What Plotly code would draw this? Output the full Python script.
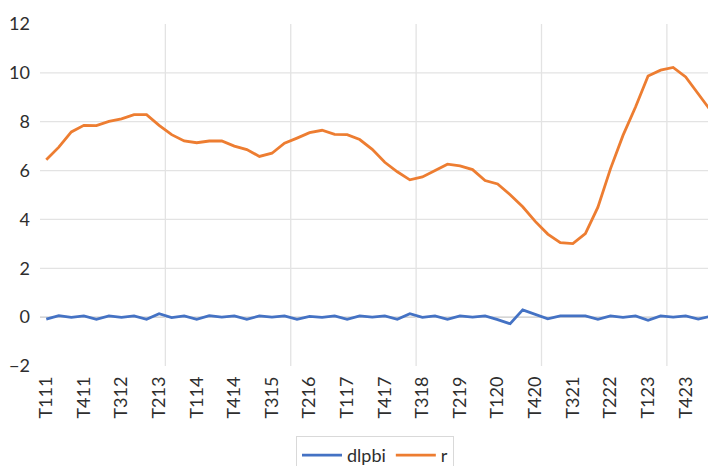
import plotly.graph_objects as go

# Quarterly periods: T<quarter><two-digit year>
quarters = [
    "T111", "T211", "T311", "T411",
    "T112", "T212", "T312", "T412",
    "T113", "T213", "T313", "T413",
    "T114", "T214", "T314", "T414",
    "T115", "T215", "T315", "T415",
    "T116", "T216", "T316", "T416",
    "T117", "T217", "T317", "T417",
    "T118", "T218", "T318", "T418",
    "T119", "T219", "T319", "T419",
    "T120", "T220", "T320", "T420",
    "T121", "T221", "T321", "T421",
    "T122", "T222", "T322", "T422",
    "T123", "T223", "T323", "T423",
    "T124", "T224",
]

dlpbi = [
    -0.08, 0.06, -0.01, 0.05,
    -0.09, 0.05, -0.01, 0.05,
    -0.09, 0.14, -0.02, 0.05,
    -0.09, 0.06, 0.00, 0.05,
    -0.09, 0.05, 0.00, 0.05,
    -0.09, 0.03, -0.01, 0.05,
    -0.09, 0.05, 0.00, 0.05,
    -0.09, 0.14, -0.01, 0.05,
    -0.09, 0.05, 0.00, 0.05,
    -0.10, -0.27, 0.30, 0.10,
    -0.07, 0.05, 0.05, 0.05,
    -0.09, 0.05, -0.01, 0.05,
    -0.13, 0.05, 0.00, 0.05,
    -0.08, 0.04,
]

r = [
    6.44, 6.96, 7.58, 7.85,
    7.84, 8.01, 8.12, 8.29,
    8.29, 7.85, 7.47, 7.21,
    7.14, 7.21, 7.21, 7.00,
    6.86, 6.58, 6.71, 7.12,
    7.33, 7.55, 7.65, 7.48,
    7.47, 7.27, 6.87, 6.34,
    5.95, 5.62, 5.74, 6.00,
    6.26, 6.19, 6.04, 5.59,
    5.45, 5.01, 4.52, 3.92,
    3.40, 3.05, 3.01, 3.42,
    4.50, 6.07, 7.44, 8.60,
    9.87, 10.11, 10.22, 9.83,
    9.14, 8.45,
]

y_ticks = [-2, 0, 2, 4, 6, 8, 10, 12]
label_step = 3      # every third quarter is labelled
grid_step = 10      # vertical gridline every ten quarters

FONT = "Lato"
TEXT = "#2e2e2e"
GRID = "#e3e3e3"

fig = go.Figure()
fig.add_trace(go.Scatter(
    x=quarters, y=dlpbi, name="dlpbi", mode="lines",
    line=dict(color="#4472C4", width=2.8),
))
fig.add_trace(go.Scatter(
    x=quarters, y=r, name="r", mode="lines",
    line=dict(color="#ED7D31", width=2.8),
))

shapes = []
# horizontal gridlines (interior values only)
for v in y_ticks[1:-1]:
    shapes.append(dict(
        type="line", layer="below", xref="paper", yref="y",
        x0=0, x1=1, y0=v, y1=v,
        line=dict(color="#c8c8c8" if v == 0 else GRID, width=1.3),
    ))
# vertical gridlines between category groups
for k in range(1, len(quarters) // grid_step + 1):
    xv = k * grid_step - 0.5
    shapes.append(dict(
        type="line", layer="below", xref="x", yref="y",
        x0=xv, x1=xv, y0=y_ticks[0], y1=y_ticks[-1],
        line=dict(color=GRID, width=1.3),
    ))

fig.update_layout(
    width=708, height=466,
    margin=dict(l=40, r=0, t=24, b=100, autoexpand=False),
    paper_bgcolor="white", plot_bgcolor="white",
    font=dict(family=FONT, size=18, color=TEXT),
    shapes=shapes,
    showlegend=True,
    legend=dict(
        orientation="h",
        xref="container", yref="container",
        x=375 / 708, xanchor="center",
        y=1 - 436 / 466, yanchor="top",
        bordercolor="#d9d9d9", borderwidth=1,
        font=dict(family=FONT, size=18, color=TEXT),
        itemwidth=40,
    ),
    xaxis=dict(
        type="category",
        range=[-0.5, 52.78],
        tickmode="array",
        tickvals=quarters[::label_step],
        ticktext=quarters[::label_step],
        tickangle=-90,
        showgrid=False, showline=False, zeroline=False,
        ticks="",
        ticklabelstandoff=6,
        tickfont=dict(family=FONT, size=18, color=TEXT),
    ),
    yaxis=dict(
        range=[y_ticks[0], y_ticks[-1]],
        tickmode="array",
        tickvals=y_ticks,
        showgrid=False, showline=False, zeroline=False,
        ticks="",
        ticklabelstandoff=9,
        tickfont=dict(family=FONT, size=18, color=TEXT),
    ),
)

fig.write_html("out.html")
